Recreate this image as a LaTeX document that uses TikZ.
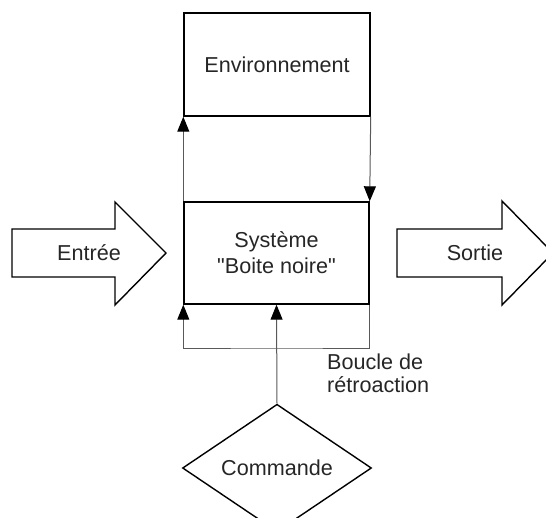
\documentclass[tikz,border=0pt]{standalone}
\usepackage{fontspec}
\setmainfont{Liberation Sans}[Ligatures=TeXOff]
\usetikzlibrary{shapes.geometric,arrows.meta}

\begin{document}
\begin{tikzpicture}[x=1pt,y=-1pt]
\tikzset{box/.style={rectangle,draw,line width=1.4pt,align=center,inner sep=0pt},
  link/.style={draw=black!65,line width=1pt,-{Triangle[width=12pt,length=15pt,black]}},
  bigarrow/.style={draw,line width=1.4pt,line join=miter}}
\tikzstyle{every node}=[font=\fontsize{21.6}{26}\selectfont,text=black!85]
\useasboundingbox (0,0) rectangle (546,517);
% blocs
\node[box,minimum width=186pt,minimum height=103pt] (env) at (277,64.5) {Environnement};
\node[box,minimum width=185pt,minimum height=102pt] (sys) at (276.5,253) {Système\\"Boite noire"};
\node[diamond,draw,line width=1.4pt,minimum width=189pt,minimum height=102pt,inner sep=0pt] (cmd) at (277,468) {Commande};
% grosses fleches
\draw[bigarrow] (12,229) -- (115,229) -- (115,202) -- (166,253) -- (115,305) -- (115,277) -- (12,277) -- cycle;
\node (in) at (89,253) {Entrée};
\draw[bigarrow] (397,229) -- (502,229) -- (502,201) -- (553,253) -- (502,305) -- (502,277) -- (397,277) -- cycle;
\node (out) at (475,253) {Sortie};
% liaisons
\draw[link] (sys.north west) -- (env.south west);
\draw[link] (env.south east) -- (sys.north east);
\coordinate (loop) at (277,348);
\draw[link] (sys.south east) |- (loop) -| (sys.south west);
\draw[link] (cmd.north) -- (sys.south);
\node[anchor=north west,align=left,inner sep=0pt,font=\fontsize{21.6}{23}\selectfont] (fb) at (327,354) {Boucle de\\rétroaction};
\end{tikzpicture}
\end{document}
